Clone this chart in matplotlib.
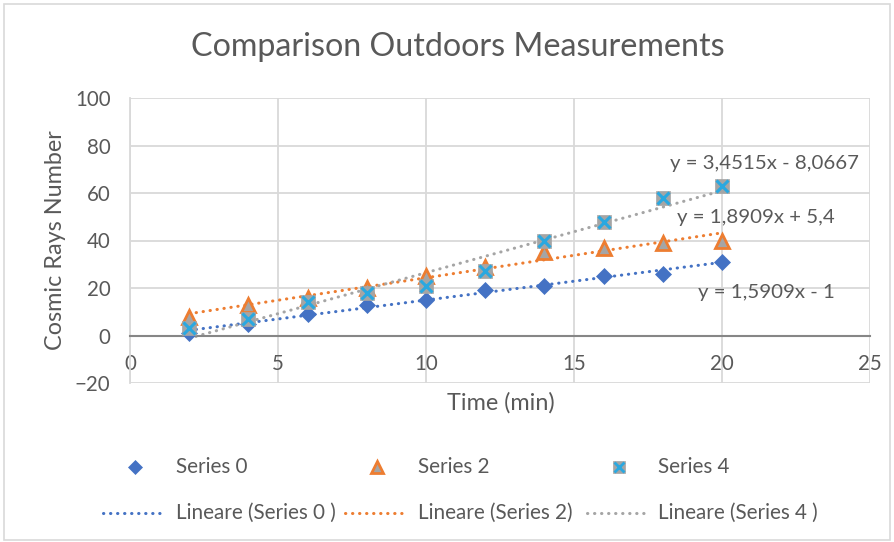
import numpy as np
import matplotlib
matplotlib.use("Agg")
import matplotlib.pyplot as plt
from matplotlib.lines import Line2D
from matplotlib.patches import Rectangle

# ---- data ----
time_min = [2, 4, 6, 8, 10, 12, 14, 16, 18, 20]
series_0 = [1, 5, 9, 13, 15, 19, 21, 25, 26, 31]
series_2 = [8, 13, 16, 20, 25, 29, 35, 37, 39, 40]
series_4 = [3, 7, 14, 18, 21, 27, 40, 48, 58, 63]
series_names = ["Series 0", "Series 2", "Series 4"]
trend_names = ["Lineare (Series 0 )", "Lineare (Series 2)", "Lineare (Series 4 )"]
x_ticks = [0, 5, 10, 15, 20, 25]
y_ticks = [-20, 0, 20, 40, 60, 80, 100]

FONT = ["Lato", "DejaVu Sans"]
plt.rcParams["font.family"] = FONT
TXT = "#595959"
BLUE = "#4472C4"
ORANGE = "#ED7D31"
GRAY = "#A5A5A5"
CYAN = "#2AA8E0"
GRID = "#D9D9D9"

W, H = 894, 542
fig = plt.figure(figsize=(W / 100, H / 100), dpi=100)


def fx(px):
    return px / W


def fy(py):
    return 1 - py / H


ax = fig.add_axes([fx(130), fy(383), fx(870) - fx(130), fy(98) - fy(383)])
ax.set_xlim(x_ticks[0], x_ticks[-1])
ax.set_ylim(y_ticks[0], y_ticks[-1])
ax.set_xticks(x_ticks)
ax.set_yticks(y_ticks)
ax.grid(True, color=GRID, linewidth=1.3, zorder=0)
ax.set_axisbelow(True)
for s in ["top", "right"]:
    ax.spines[s].set_visible(False)
ax.spines["left"].set_color(GRID)
ax.spines["left"].set_linewidth(1.3)
ax.spines["bottom"].set_position(("data", 0))
ax.spines["bottom"].set_color("#868686")
ax.spines["bottom"].set_linewidth(1.5)
ax.tick_params(axis="both", length=0, labelsize=14.8, labelcolor=TXT)
ax.tick_params(axis="x", pad=13)
ax.tick_params(axis="y", pad=14)

x = np.array(time_min, dtype=float)
styles = [
    dict(marker="D", ms=8, mfc=BLUE, mec=BLUE, mew=0.5),
    dict(marker="^", ms=10, mfc=GRAY, mec=ORANGE, mew=2.0),
    dict(marker="s", ms=10, mfc=GRAY, mec=GRAY, mew=0.5),
]
colors = [BLUE, ORANGE, GRAY]
label_pos = [(19.19, 18.1), (18.48, 49.8), (18.24, 72.6)]


def fmt(v):
    s = f"{abs(v):.4f}".rstrip("0").rstrip(".")
    return s.replace(".", ",")


for i, ys in enumerate([series_0, series_2, series_4]):
    y = np.array(ys, dtype=float)
    m, b = np.polyfit(x, y, 1)
    ax.plot(x, m * x + b, color=colors[i], lw=2.2, ls=(0, (0.1, 2.2)),
            dash_capstyle="round", zorder=2)
    sign = "-" if b < 0 else "+"
    ax.text(label_pos[i][0], label_pos[i][1], f"y = {fmt(m)}x {sign} {fmt(b)}",
            fontsize=14.7, color=TXT, va="center", ha="left", zorder=5)

for i, ys in enumerate([series_0, series_2, series_4]):
    ax.plot(time_min, ys, ls="none", zorder=3 + i, **styles[i])
ax.plot(time_min, series_4, ls="none", marker="x", ms=8.5, mec=CYAN, mew=2.2, zorder=6)

# axis titles
fig.text(fx(55), fy(240), "Cosmic Rays Number", rotation=90, ha="center", va="center",
         fontsize=16.8, color=TXT)
fig.text(fx(501), fy(403), "Time (min)", ha="center", va="center", fontsize=16.8, color=TXT)
fig.text(fx(458), fy(47), "Comparison Outdoors Measurements", ha="center", va="center",
         fontsize=23.2, color=TXT)

# legend, row of markers
row1 = 467
line_x = [(103, 164), (345, 406), (587, 647)]
text_x = [176, 418, 658]
for i in range(3):
    mx = (line_x[i][0] + line_x[i][1]) / 2 + 1.5
    fig.add_artist(Line2D([fx(mx)], [fy(row1)], transform=fig.transFigure,
                          ls="none", **{**styles[i], "ms": styles[i]["ms"] * 0.9}))
    if i == 2:
        fig.add_artist(Line2D([fx(mx)], [fy(row1)], transform=fig.transFigure,
                              ls="none", marker="x", ms=7.5, mec=CYAN, mew=2))
    fig.text(fx(text_x[i]), fy(row1), series_names[i], ha="left", va="center",
             fontsize=14.9, color=TXT)

# legend, row of trendlines
row2 = 513
for i in range(3):
    fig.add_artist(Line2D([fx(line_x[i][0]), fx(line_x[i][1])], [fy(row2), fy(row2)],
                          transform=fig.transFigure, color=colors[i], lw=2.2,
                          ls=(0, (0.1, 2.2)), dash_capstyle="round"))
    fig.text(fx(text_x[i]), fy(row2), trend_names[i], ha="left", va="center",
             fontsize=14.9, color=TXT)

# chart frame
fig.add_artist(Rectangle((fx(4), fy(540)), fx(890) - fx(4), fy(4) - fy(540),
                         transform=fig.transFigure, fill=False, ec=GRID, lw=1.2))

fig.savefig("out.png", dpi=100, facecolor="white")
